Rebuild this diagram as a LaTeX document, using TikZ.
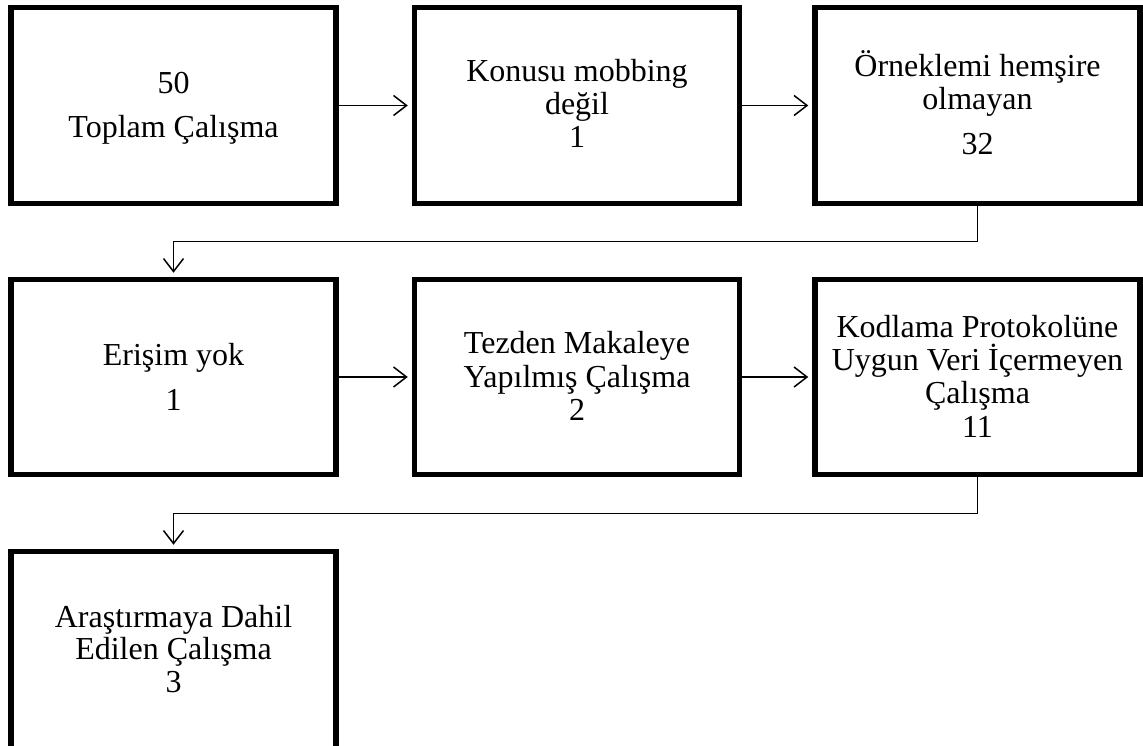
\documentclass[tikz,border=0pt]{standalone}
\usepackage{fontspec}
\setmainfont{Liberation Serif}
\usetikzlibrary{arrows.meta}
\begin{document}
\begin{tikzpicture}[x=1pt,y=-1pt,
  box/.style={draw=black,line width=5.5pt,rectangle,inner sep=0pt,minimum width=325pt,minimum height=196pt},
  txt/.style={anchor=base,inner sep=0pt,font=\fontsize{32}{33}\selectfont},
  conn/.style={draw=black,line width=1.5pt,-{Straight Barb[length=13pt,width=20pt,line width=1.5pt]},shorten >=4pt}]
\useasboundingbox (0,0) rectangle (1143,746);
\fill[white] (0,0) rectangle (1143,746);
% row 1
\node[box] (b1) at (173.5,105.5) {};
\node[box] (b2) at (577,105.5) {};
\node[box] (b3) at (977.5,105.5) {};
% row 2
\node[box,minimum height=195pt] (b4) at (173.5,377) {};
\node[box,minimum height=195pt] (b5) at (577,377) {};
\node[box,minimum height=195pt] (b6) at (977.5,377) {};
% row 3
\node[box,minimum height=210pt] (b7) at (173.5,656.5) {};
% texts
\node[txt] (t1a) at (173.5,94) {50};
\node[txt] (t1b) at (173.5,138) {Toplam Çalışma};
\node[txt] (t2a) at (577,82) {Konusu mobbing};
\node[txt] (t2b) at (577,115) {değil};
\node[txt] (t2c) at (577,148) {1};
\node[txt] (t3a) at (977.5,77) {Örneklemi hemşire};
\node[txt] (t3b) at (977.5,110) {olmayan};
\node[txt] (t3c) at (977.5,155) {32};
\node[txt] (t4a) at (173.5,365) {Erişim yok};
\node[txt] (t4b) at (173.5,410) {1};
\node[txt] (t5a) at (577,353) {Tezden Makaleye};
\node[txt] (t5b) at (577,387) {Yapılmış Çalışma};
\node[txt] (t5c) at (577,420) {2};
\node[txt] (t6a) at (977.5,337) {Kodlama Protokolüne};
\node[txt] (t6b) at (977.5,370) {Uygun Veri İçermeyen};
\node[txt] (t6c) at (977.5,403) {Çalışma};
\node[txt] (t6d) at (977.5,437) {11};
\node[txt] (t7a) at (173.5,627) {Araştırmaya Dahil};
\node[txt] (t7b) at (173.5,659) {Edilen Çalışma};
\node[txt] (t7c) at (173.5,692) {3};
% connectors
\draw[conn] (b1.east) -- (b2.west);
\draw[conn] (b2.east) -- (b3.west);
\draw[conn] (b4.east) -- (b5.west);
\draw[conn] (b5.east) -- (b6.west);
\draw[conn] (b3.south) -- ++(0,35) -| (b4.north);
\draw[conn] (b6.south) -- ++(0,36) -| (b7.north);
\end{tikzpicture}
\end{document}
